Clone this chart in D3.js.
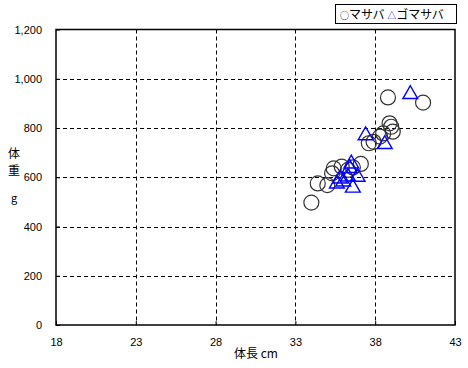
<!DOCTYPE html>
<html><head><meta charset="utf-8">
<script src="https://cdn.jsdelivr.net/npm/d3@7"></script>
<style>body{margin:0;background:#fff}svg{display:block}text{font-family:"Liberation Sans",Arial,sans-serif}</style>
</head><body><svg id="c" width="468" height="368"></svg>
<script>
const xTicks = [18, 23, 28, 33, 38, 43];
const yTicks = [0, 200, 400, 600, 800, 1000, 1200];
const masabaLength = [34.0, 34.4, 35.0, 35.3, 35.4, 35.9, 36.3, 36.6, 37.1, 37.6, 37.9, 38.3, 38.5, 38.9, 39.0, 39.1, 38.8, 41.0];
const masabaWeight = [497, 575, 568, 616, 636, 643, 630, 640, 654, 738, 744, 765, 778, 819, 805, 785, 924, 903];
const gomaLength = [35.6, 35.8, 36.0, 36.3, 36.6, 36.5, 36.4, 36.9, 37.4, 38.6, 40.2];
const gomaWeight = [582, 602, 590, 610, 565, 663, 645, 609, 778, 742, 945];

const svg = d3.select("#c");
const L = 56, R = 455, T = 29.5, B = 325;
const x = d3.scaleLinear().domain([18, 43]).range([L, R]);
const y = d3.scaleLinear().domain([0, 1200]).range([B, T]);
const g = svg.append("g");

// grid
g.selectAll(".gx").data(xTicks.slice(1, -1)).enter().append("line")
  .attr("x1", d => Math.round(x(d)) + 0.5).attr("x2", d => Math.round(x(d)) + 0.5)
  .attr("y1", T).attr("y2", B).attr("stroke", "#000").attr("stroke-dasharray", "4,3");
g.selectAll(".gy").data(yTicks.slice(1, -1)).enter().append("line")
  .attr("y1", d => Math.round(y(d)) + 0.5).attr("y2", d => Math.round(y(d)) + 0.5)
  .attr("x1", L).attr("x2", R).attr("stroke", "#000").attr("stroke-dasharray", "4,3");

// axes
const xa = svg.append("g").attr("transform", `translate(0,${B})`)
  .call(d3.axisBottom(x).tickValues(xTicks).tickSizeInner(-4).tickSizeOuter(0).tickPadding(13));
const ya = svg.append("g").attr("transform", `translate(${L},0)`)
  .call(d3.axisLeft(y).tickValues(yTicks).tickSizeInner(-4).tickSizeOuter(0).tickPadding(14).tickFormat(d3.format(",")));
[xa, ya].forEach(a => {
  a.select(".domain").remove();
  a.selectAll("line").attr("stroke", "#000");
  a.selectAll("text").attr("font-size", 11).attr("fill", "#000");
});
svg.append("rect").attr("x", L).attr("y", T).attr("width", R - L).attr("height", B - T)
  .attr("fill", "none").attr("stroke", "#000").attr("stroke-width", 1.5);

// points
svg.append("g").selectAll("circle").data(masabaLength).enter().append("circle")
  .attr("cx", (d, i) => x(d)).attr("cy", (d, i) => y(masabaWeight[i])).attr("r", 7.5)
  .attr("fill", "none").attr("stroke", "#333").attr("stroke-width", 1.2);
const tri = d3.symbol().type(d3.symbolTriangle).size(95);
svg.append("g").selectAll("path").data(gomaLength).enter().append("path")
  .attr("d", tri)
  .attr("transform", (d, i) => `translate(${x(d)},${y(gomaWeight[i]) + 2})`)
  .attr("fill", "none").attr("stroke", "#0000ff").attr("stroke-width", 1.4);

// labels
const jp = '"Noto Sans CJK JP", sans-serif';
svg.append("text").attr("x", 256).attr("y", 358).attr("text-anchor", "middle")
  .attr("font-size", 12).style("font-family", jp).text("体長 cm");
svg.append("text").attr("x", 14).attr("y", 158).attr("text-anchor", "middle").attr("font-size", 12).style("font-family", jp).text("体");
svg.append("text").attr("x", 14).attr("y", 175).attr("text-anchor", "middle").attr("font-size", 12).style("font-family", jp).text("重");
svg.append("text").attr("x", 14).attr("y", 202).attr("text-anchor", "middle").attr("font-size", 11).style("font-family", jp).text("g");

// legend
svg.append("rect").attr("x", 335.5).attr("y", 4.5).attr("width", 121).attr("height", 19)
  .attr("fill", "#fff").attr("stroke", "#000");
const lt = svg.append("text").attr("x", 340).attr("y", 19).attr("font-size", 12).style("font-family", jp);
lt.append("tspan").attr("fill", "#000").attr("font-size", 9).text("○");
lt.append("tspan").attr("fill", "#000").text("マサバ ");
lt.append("tspan").attr("fill", "#0000ff").attr("font-size", 9).text("△");
lt.append("tspan").attr("fill", "#000").text("ゴマサバ");
</script></body></html>
